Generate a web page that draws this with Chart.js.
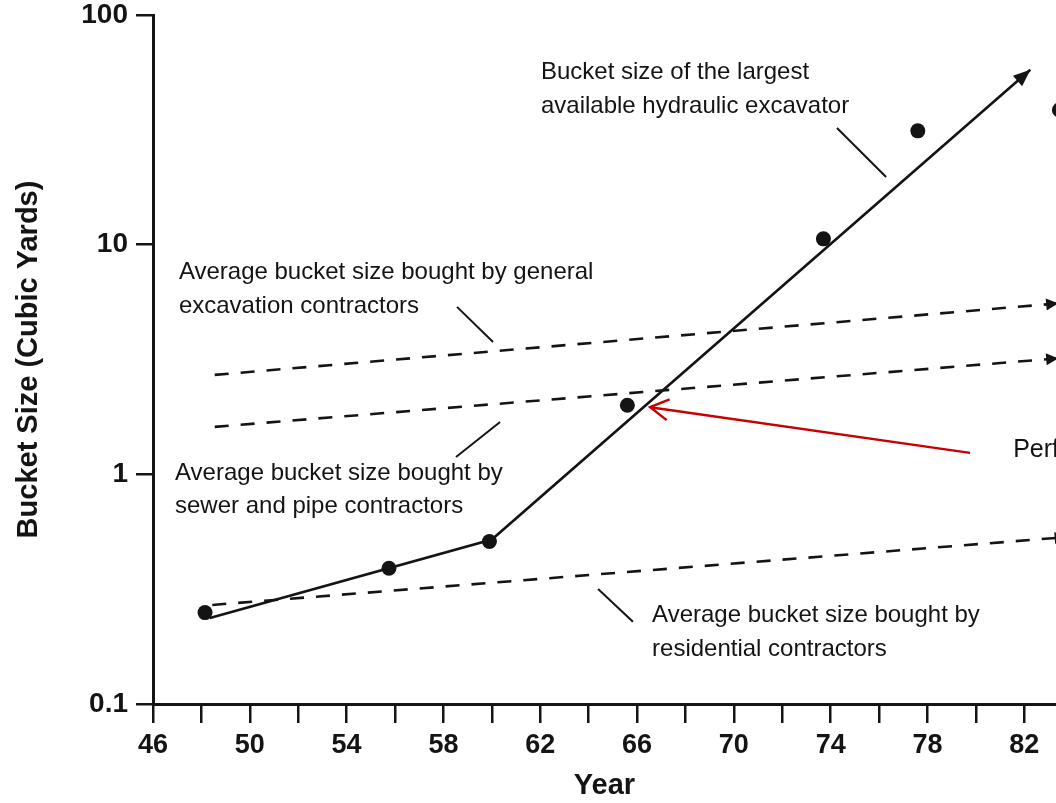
<!DOCTYPE html>
<html><head><meta charset="utf-8">
<script src="https://cdn.jsdelivr.net/npm/chart.js@4.4.1/dist/chart.umd.min.js"></script>
<style>html,body{margin:0;padding:0;background:#fff;overflow:hidden}#wrap{width:1056px;height:803px;position:relative}</style>
</head><body><div id="wrap"><canvas id="c" width="1056" height="803"></canvas></div>
<script>
// ---- data ----
const pointYears = [48.15, 55.75, 59.9, 65.6, 73.7, 77.6, 83.45];
const pointSizes = [0.25, 0.39, 0.51, 2.0, 10.6, 31.3, 38.6];

const trendYears = [48.35, 60.0, 82.25];
const trendSizes = [0.237, 0.52, 57.7];

const generalYears = [48.55, 83.4];
const generalSizes = [2.71, 5.55];

const sewerYears = [48.55, 83.4];
const sewerSizes = [1.61, 3.2];

const residentialYears = [48.45, 83.75];
const residentialSizes = [0.27, 0.533];

const xTickValues = [46,48,50,52,54,56,58,60,62,64,66,68,70,72,74,76,78,80,82];
const xLabeledYears = [46,50,54,58,62,66,70,74,78,82];
const yTickValues = [0.1, 1, 10, 100];
const yTickLabels = ['0.1', '1', '10', '100'];

const annotationTexts = [
  ['Bucket size of the largest', 'available hydraulic excavator'],
  ['Average bucket size bought by general', 'excavation contractors'],
  ['Average bucket size bought by', 'sewer and pipe contractors'],
  ['Average bucket size bought by', 'residential contractors']
];
const noteText = 'Perf';

// ---- annotation placement (data coordinates) ----
const annotationAnchors = [
  {x: 62.03, y: 56.2, leader: [[74.26, 32.2], [76.29, 19.7]]},
  {x: 47.07, y: 7.57, leader: [[58.56, 5.36], [60.05, 3.77]]},
  {x: 46.91, y: 1.01, leader: [[60.34, 1.69], [58.52, 1.19]]},
  {x: 66.62, y: 0.243, leader: [[64.39, 0.317], [65.83, 0.228]]}
];
const redArrow = {from: [79.76, 1.24], to: [66.54, 1.96]};
const noteAnchor = {x: 81.54, y: 1.28};

const FONT = '"Liberation Sans", Arial, Helvetica, sans-serif';
const INK = '#141414';

const zip = (xs, ys) => xs.map((v, i) => ({x: v, y: ys[i]}));

const decor = {
  id: 'decor',
  afterDatasetsDraw(chart) {
    const {ctx, scales: {x, y}} = chart;
    const px = v => x.getPixelForValue(v), py = v => y.getPixelForValue(v);
    ctx.save();
    chart.data.datasets.forEach(ds => {
      if (!ds.arrowHead) return;
      const d = ds.data, n = d.length;
      const x1 = px(d[n-2].x), y1 = py(d[n-2].y), x2 = px(d[n-1].x), y2 = py(d[n-1].y);
      const a = Math.atan2(y2 - y1, x2 - x1);
      const L = ds.arrowHead.len, W = ds.arrowHead.half;
      const bx = x2 - L * Math.cos(a), by = y2 - L * Math.sin(a);
      ctx.beginPath();
      ctx.moveTo(x2, y2);
      ctx.lineTo(bx + W * Math.sin(a), by - W * Math.cos(a));
      ctx.lineTo(bx - W * Math.sin(a), by + W * Math.cos(a));
      ctx.closePath();
      ctx.fillStyle = INK;
      ctx.fill();
    });
    ctx.fillStyle = INK;
    ctx.strokeStyle = INK;
    ctx.lineWidth = 2;
    ctx.font = '24px ' + FONT;
    ctx.textBaseline = 'middle';
    ctx.textAlign = 'left';
    annotationTexts.forEach((lines, i) => {
      const an = annotationAnchors[i];
      lines.forEach((t, k) => ctx.fillText(t, px(an.x), py(an.y) + k * 33.5));
      const [p, q] = an.leader;
      ctx.beginPath();
      ctx.moveTo(px(p[0]), py(p[1]));
      ctx.lineTo(px(q[0]), py(q[1]));
      ctx.stroke();
    });
    const fx = px(redArrow.from[0]), fy = py(redArrow.from[1]);
    const tx = px(redArrow.to[0]), ty = py(redArrow.to[1]);
    ctx.strokeStyle = '#c80000';
    ctx.lineWidth = 2.5;
    ctx.beginPath();
    ctx.moveTo(fx, fy); ctx.lineTo(tx, ty);
    const a = Math.atan2(ty - fy, tx - fx);
    const hl = 21, ha = 0.52;
    ctx.moveTo(tx - hl * Math.cos(a - ha), ty - hl * Math.sin(a - ha));
    ctx.lineTo(tx, ty);
    ctx.lineTo(tx - hl * Math.cos(a + ha), ty - hl * Math.sin(a + ha));
    ctx.stroke();
    ctx.fillStyle = '#111';
    ctx.font = '25px ' + FONT;
    ctx.fillText(noteText, px(noteAnchor.x), py(noteAnchor.y));
    ctx.restore();
  }
};

const dashedStyle = {
  borderColor: INK, borderWidth: 2.6, borderDash: [14, 12], pointRadius: 0,
  showLine: true, fill: false, tension: 0, clip: false, arrowHead: {len: 12, half: 6}
};

const noPad = s => { s.paddingLeft = 0; s.paddingRight = 0; s.paddingTop = 0; s.paddingBottom = 0; };

new Chart(document.getElementById('c'), {
  type: 'scatter',
  data: {
    datasets: [
      Object.assign({label: 'General', data: zip(generalYears, generalSizes)}, dashedStyle),
      Object.assign({label: 'Sewer', data: zip(sewerYears, sewerSizes)}, dashedStyle),
      Object.assign({label: 'Residential', data: zip(residentialYears, residentialSizes)}, dashedStyle),
      {label: 'Largest', data: zip(trendYears, trendSizes), showLine: true, borderColor: INK,
       borderWidth: 2.6, pointRadius: 0, tension: 0, clip: false, arrowHead: {len: 17, half: 7}},
      {label: 'Observed', data: zip(pointYears, pointSizes), showLine: false, pointRadius: 7.5,
       pointBackgroundColor: INK, pointBorderColor: INK, pointBorderWidth: 0, clip: false}
    ]
  },
  options: {
    responsive: false, animation: false,
    layout: {autoPadding: false, padding: {top: 15, right: 0, left: 0, bottom: 0}},
    plugins: {legend: {display: false}, tooltip: {enabled: false}},
    scales: {
      x: {
        type: 'linear', min: 46, max: 83.31,
        afterBuildTicks: s => { s.ticks = xTickValues.map(v => ({value: v})); },
        afterFit: s => { s.height = 99; noPad(s); },
        ticks: {
          autoSkip: false, maxRotation: 0, padding: 6, color: INK,
          font: {family: FONT, size: 27, weight: 'bold'},
          callback: v => xLabeledYears.includes(v) ? String(v) : ''
        },
        grid: {drawOnChartArea: false, drawTicks: true, tickLength: 19, color: INK, lineWidth: 2.5},
        border: {color: INK, width: 3},
        title: {display: true, text: 'Year', color: INK, font: {family: FONT, size: 29, weight: 'bold'},
                padding: {top: 0, bottom: 0}}
      },
      y: {
        type: 'logarithmic', min: 0.1, max: 100,
        afterBuildTicks: s => { s.ticks = yTickValues.map(v => ({value: v})); },
        afterFit: s => { s.width = 153; noPad(s); },
        ticks: {
          padding: 8, color: INK,
          font: {family: FONT, size: 28, weight: 'bold'},
          callback: v => { const i = yTickValues.findIndex(t => Math.abs(t - v) < 1e-9); return i >= 0 ? yTickLabels[i] : ''; }
        },
        grid: {drawOnChartArea: false, drawTicks: true, tickLength: 17, color: INK, lineWidth: 2.5},
        border: {color: INK, width: 3},
        title: {display: true, text: 'Bucket Size (Cubic Yards)', color: INK,
                font: {family: FONT, size: 29, weight: 'bold'}, padding: {top: 12, bottom: 0}}
      }
    }
  },
  plugins: [decor]
});
</script>
</body></html>
